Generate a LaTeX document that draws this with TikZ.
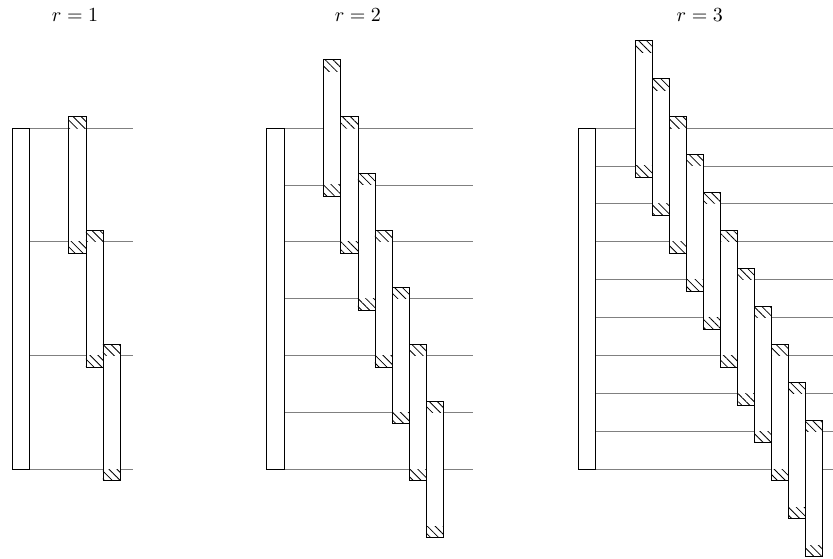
\documentclass[tikz,border=0pt]{standalone}
\usepackage{tikz}
\usetikzlibrary{patterns.meta, calc}

\begin{document}
\begin{tikzpicture}[
    wire/.style={gray, line width=0.4pt},
    bigbox/.style={draw, fill=white, line width=0.4pt},
    slab/.style={draw, fill=white, line width=0.4pt},
    hatch/.style={pattern={Lines[angle=-45, distance=2.8pt, line width=0.4pt]}}
]
\useasboundingbox (0,0) rectangle (14.64,9.81);
\clip (0,0) rectangle (14.64,9.81);
\foreach \r/\x/\lx/\len in {1/0.21/1.32/2.13, 2/4.69/6.29/3.62, 3/10.16/12.30/5}{
    \pgfmathtruncatemacro\n{3*\r}
    \pgfmathtruncatemacro\m{4*\r-2}
    \node (lab\r) at (\lx, 9.54) {$r=\r$};
    \foreach \i in {0,...,\n}
        \draw[wire] (\x+0.3, {1.56+\i*6/\n}) -- ++(\len-0.3, 0);
    \draw[bigbox] (\x, 1.56) rectangle ++(0.3, 6);
    \foreach \k in {0,...,\m}{
        \pgfmathsetmacro\yt{7.56-(\k-\r+1)*6/\n}
        \draw[slab] (\x+1+0.3*\k, \yt+0.2) rectangle ++(0.3, -2.4);
        \path[hatch] (\x+1+0.3*\k, \yt) rectangle ++(0.3, 0.2);
        \path[hatch] (\x+1+0.3*\k, \yt-2.2) rectangle ++(0.3, 0.2);
    }
}
\end{tikzpicture}
\end{document}
